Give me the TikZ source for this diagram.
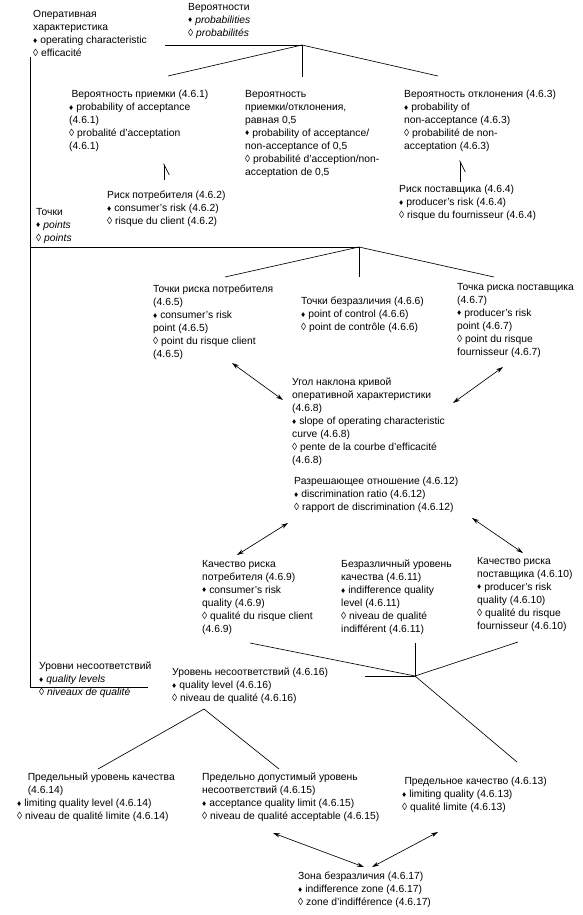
\documentclass[tikz,border=0pt]{standalone}
\usepackage{fontspec}
\setmainfont{Liberation Sans}
\usepackage{tikz}
\usetikzlibrary{arrows.meta}

\newcommand{\fdia}{\raisebox{0.3pt}{\scalebox{0.8}{♦}}}
\newcommand{\odia}{◊}

\begin{document}
\begin{tikzpicture}[
  x=0.03cm, y=-0.03cm,
  termtext/.style={
    anchor=north west, inner sep=0pt, align=left,
    font=\fontsize{8.8}{11.1}\selectfont
  },
  link/.style={line width=0.55pt},
  arr/.style={{Stealth[length=6pt,width=3.6pt]}-{Stealth[length=6pt,width=3.6pt]}, line width=0.55pt},
  barb/.style={-{Straight Barb[harpoon,swap,length=9pt,width=9pt]}, line width=0.55pt},
]
\useasboundingbox (0,0) rectangle (582,915);

%% -- Probabilities ------------------------------------------------------------
\node[termtext] (opchar) at (33,10)  {Оперативная\\характеристика\\\fdia{} operating characteristic\\\odia{} efficacité};
\node[termtext] (prob)   at (188,3)  {Вероятности\\\fdia{} \textit{probabilities}\\\odia{} \textit{probabilités}};
\node[termtext] (pacc)   at (69,90)  {\hspace*{2pt}Вероятность приемки (4.6.1)\\\fdia{} probability of acceptance\\(4.6.1)\\\odia{} probalité d'acceptation\\(4.6.1)};
\node[termtext] (pacc05) at (245,90) {Вероятность\\приемки/отклонения,\\равная 0,5\\\fdia{} probability of acceptance/\\non-acceptance of 0,5\\\odia{} probabilité d'acception/non-\\acceptation de 0,5};
\node[termtext] (prej)   at (404,90) {Вероятность отклонения (4.6.3)\\\fdia{} probability of\\non-acceptance (4.6.3)\\\odia{} probabilité de non-\\acceptation (4.6.3)};
\node[termtext] (crisk)  at (107,191) {Риск потребителя (4.6.2)\\\fdia{} consumer's risk (4.6.2)\\\odia{} risque du client (4.6.2)};
\node[termtext] (prisk)  at (399,185) {Риск поставщика (4.6.4)\\\fdia{} producer's risk (4.6.4)\\\odia{} risque du fournisseur (4.6.4)};

%% -- Points -------------------------------------------------------------------
\node[termtext] (pts)    at (36,208)  {Точки\\\fdia{} \textit{points}\\\odia{} \textit{points}};
\node[termtext] (crp)    at (153,285) {Точки риска потребителя\\(4.6.5)\\\fdia{} consumer's risk\\point (4.6.5)\\\odia{} point du risque client\\(4.6.5)};
\node[termtext] (indp)   at (301,297) {Точки безразличия (4.6.6)\\\fdia{} point of control (4.6.6)\\\odia{} point de contrôle (4.6.6)};
\node[termtext] (prp)    at (457,283) {Точка риска поставщика\\(4.6.7)\\\fdia{} producer's risk\\point (4.6.7)\\\odia{} point du risque\\fournisseur (4.6.7)};
\node[termtext] (slope)  at (292,378) {Угол наклона кривой\\оперативной характеристики\\(4.6.8)\\\fdia{} slope of operating characteristic\\curve (4.6.8)\\\odia{} pente de la courbe d'efficacité\\(4.6.8)};
\node[termtext] (dratio) at (294,477) {Разрешающее отношение (4.6.12)\\\fdia{} discrimination ratio (4.6.12)\\\odia{} rapport de discrimination (4.6.12)};
\node[termtext] (crq)    at (202,560) {Качество риска\\потребителя (4.6.9)\\\fdia{} consumer's risk\\quality (4.6.9)\\\odia{} qualité du risque client\\(4.6.9)};
\node[termtext] (indq)   at (341,560) {Безразличный уровень\\качества (4.6.11)\\\fdia{} indifference quality\\level (4.6.11)\\\odia{} niveau de qualité\\indifférent (4.6.11)};
\node[termtext] (prq)    at (477,557) {Качество риска\\поставщика (4.6.10)\\\fdia{} producer's risk\\quality (4.6.10)\\\odia{} qualité du risque\\fournisseur (4.6.10)};

%% -- Quality levels -----------------------------------------------------------
\node[termtext] (qlvls)  at (39,662)  {Уровни несоответствий\\\fdia{} \textit{quality levels}\\\odia{} \textit{niveaux de qualité}};
\node[termtext] (qlvl)   at (172,668) {Уровень несоответствий (4.6.16)\\\fdia{} quality level (4.6.16)\\\odia{} niveau de qualité (4.6.16)};
\node[termtext] (lql)    at (17,773)  {\hspace*{9pt}Предельный уровень качества\\\hspace*{9pt}(4.6.14)\\\fdia{} limiting quality level (4.6.14)\\\odia{} niveau de qualité limite (4.6.14)};
\node[termtext] (aql)    at (202,773) {Предельно допустимый уровень\\несоответствий (4.6.15)\\\fdia{} acceptance quality limit (4.6.15)\\\odia{} niveau de qualité acceptable (4.6.15)};
\node[termtext] (lq)     at (402,777) {\hspace*{2pt}Предельное качество (4.6.13)\\\fdia{} limiting quality (4.6.13)\\\odia{} qualité limite (4.6.13)};
\node[termtext] (izone)  at (298,872) {Зона безразличия (4.6.17)\\\fdia{} indifference zone (4.6.17)\\\odia{} zone d'indifférence (4.6.17)};

%% -- Junctions and free ends --------------------------------------------------
\coordinate (probL)  at (165,45);
\coordinate (probJ)  at (302,45);
\coordinate (paccT)  at (168,76);
\coordinate (pa05T)  at (302,77);
\coordinate (prejT)  at (438,76);
\coordinate (railT)  at (30,57);
\coordinate (railP)  at (30,247);
\coordinate (railB)  at (30,687);
\coordinate (qlvlsR) at (148,687);
\coordinate (ptsJ)   at (359,247);
\coordinate (crpT)   at (225,277);
\coordinate (indpT)  at (359,277);
\coordinate (prpT)   at (494,277);
\coordinate (criskT) at (164,180);
\coordinate (paccB)  at (164,163);
\coordinate (priskT) at (460,182);
\coordinate (prejB)  at (460,160);
\coordinate (crpS)   at (232,363);
\coordinate (slopeW) at (283,400);
\coordinate (prpS)   at (503,367);
\coordinate (slopeE) at (453,403);
\coordinate (drSW)   at (288,523);
\coordinate (crqN)   at (237,555);
\coordinate (drSE)   at (472,518);
\coordinate (prqN)   at (523,553);
\coordinate (starJ)  at (415,676);
\coordinate (indqB)  at (415,643);
\coordinate (prqB)   at (518,642);
\coordinate (qlvlE)  at (365,676);
\coordinate (crqB)   at (250,643);
\coordinate (lqT)    at (517,762);
\coordinate (qlvlJ)  at (204,709);
\coordinate (lqlT)   at (98,769);
\coordinate (aqlT)   at (279,769);
\coordinate (aqlS)   at (273,833);
\coordinate (izoneL) at (364,867);
\coordinate (lqS)    at (438,832);
\coordinate (izoneR) at (372,867);

%% -- Edges --------------------------------------------------------------------
\draw[link] (probL) -- (probJ);
\draw[link] (probJ) -- (paccT);
\draw[link] (probJ) -- (pa05T);
\draw[link] (probJ) -- (prejT);
\draw[link] (railT) -- (railB) -- (qlvlsR);
\draw[link] (railP) -- (ptsJ);
\draw[link] (ptsJ)  -- (crpT);
\draw[link] (ptsJ)  -- (indpT);
\draw[link] (ptsJ)  -- (prpT);
\draw[barb] (criskT) -- (paccB);
\draw[barb] (priskT) -- (prejB);
\draw[arr]  (crpS) -- (slopeW);
\draw[arr]  (prpS) -- (slopeE);
\draw[arr]  (drSW) -- (crqN);
\draw[arr]  (drSE) -- (prqN);
\draw[link] (starJ) -- (indqB);
\draw[link] (starJ) -- (prqB);
\draw[link] (starJ) -- (qlvlE);
\draw[link] (starJ) -- (crqB);
\draw[link] (starJ) -- (lqT);
\draw[link] (qlvlJ) -- (lqlT);
\draw[link] (qlvlJ) -- (aqlT);
\draw[arr]  (aqlS) -- (izoneL);
\draw[arr]  (lqS)  -- (izoneR);

\end{tikzpicture}
\end{document}
